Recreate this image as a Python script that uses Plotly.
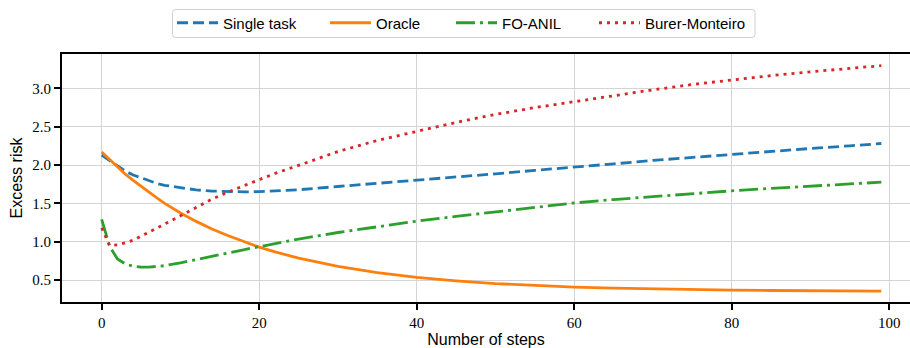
import plotly.graph_objects as go

steps = [0, 1, 2, 3, 4, 5, 6, 7, 8, 10, 12, 14, 16, 18, 20, 22, 25, 30, 35, 40,
         45, 50, 55, 60, 65, 70, 75, 80, 85, 90, 95, 99]

single_task = [2.13, 2.06, 1.98, 1.92, 1.87, 1.83, 1.79, 1.76, 1.735, 1.70, 1.675, 1.66,
               1.652, 1.65, 1.652, 1.66, 1.677, 1.72, 1.76, 1.80, 1.84, 1.885, 1.93, 1.97,
               2.015, 2.06, 2.10, 2.14, 2.18, 2.215, 2.25, 2.28]
oracle = [2.17, 2.07, 1.97, 1.88, 1.80, 1.72, 1.64, 1.57, 1.50, 1.375, 1.265, 1.165,
          1.08, 1.0, 0.93, 0.868, 0.786, 0.678, 0.596, 0.535, 0.489, 0.454, 0.429, 0.409,
          0.394, 0.383, 0.375, 0.369, 0.364, 0.361, 0.358, 0.356]
fo_anil = [1.29, 0.94, 0.775, 0.71, 0.68, 0.668, 0.668, 0.675, 0.688, 0.725, 0.77, 0.815,
           0.855, 0.895, 0.935, 0.975, 1.035, 1.12, 1.195, 1.268, 1.33, 1.39, 1.45, 1.505,
           1.55, 1.59, 1.63, 1.663, 1.695, 1.725, 1.755, 1.776]
burer_monteiro = [1.18, 0.95, 0.96, 0.985, 1.02, 1.07, 1.125, 1.175, 1.23, 1.337, 1.45,
                  1.555, 1.646, 1.73, 1.815, 1.89, 1.995, 2.175, 2.32, 2.44, 2.555, 2.66,
                  2.748, 2.825, 2.905, 2.98, 3.05, 3.11, 3.165, 3.215, 3.26, 3.295]

series_names = ["Single task", "Oracle", "FO-ANIL", "Burer-Monteiro"]
x_ticks = [0, 20, 40, 60, 80, 100]
y_ticks = [0.5, 1.0, 1.5, 2.0, 2.5, 3.0]

styles = [
    dict(color="#1f77b4", dash="11px,5px"),
    dict(color="#ff7f0e", dash="solid"),
    dict(color="#2ca02c", dash="19px,5px,3px,5px"),
    dict(color="#d62728", dash="3px,5px"),
]

# plot area geometry (px)
W, H = 910, 348
L, R, T, B = 62, 0, 54, 46
PW, PH = W - L - R, H - T - B


def px_x(p):
    return (p - L) / PW


def px_y(p):
    return (H - B - p) / PH


legend_ids = ["legend", "legend2", "legend3", "legend4"]
legend_left_px = [173, 326, 452, 595]

fig = go.Figure()
for name, vals, st, lid in zip(series_names, [single_task, oracle, fo_anil, burer_monteiro],
                               styles, legend_ids):
    fig.add_trace(go.Scatter(x=steps, y=vals, mode="lines", name=name, legend=lid,
                             showlegend=True,
                             line=dict(color=st["color"], dash=st["dash"], width=2.8)))

legend_common = dict(orientation="h", yanchor="middle", y=px_y(23), xanchor="left",
                     bgcolor="rgba(0,0,0,0)", borderwidth=0, itemwidth=41,
                     font=dict(family="Liberation Sans", size=15, color="black"))
layout_legends = {}
for lid, lx in zip(legend_ids, legend_left_px):
    layout_legends[lid] = dict(legend_common, x=px_x(lx - 1), visible=True)

# rounded legend frame
x0, x1, y0, y1, r = px_x(172.5), px_x(755), px_y(37.5), px_y(9.5), 3
rx, ry = r / PW, r / PH
frame = (f"M{x0+rx},{y1} L{x1-rx},{y1} Q{x1},{y1} {x1},{y1-ry} "
         f"L{x1},{y0+ry} Q{x1},{y0} {x1-rx},{y0} L{x0+rx},{y0} "
         f"Q{x0},{y0} {x0},{y0+ry} L{x0},{y1-ry} Q{x0},{y1} {x0+rx},{y1} Z")

fig.update_layout(
    width=W, height=H,
    showlegend=True,
    margin=dict(l=L, r=R, t=T, b=B),
    paper_bgcolor="white", plot_bgcolor="white",
    font=dict(family="Liberation Sans", size=15, color="black"),
    shapes=[dict(type="path", path=frame, xref="paper", yref="paper",
                 line=dict(color="#d0d0d0", width=1), fillcolor="rgba(0,0,0,0)")],
    xaxis=dict(range=[-5.04, 102.64], tickvals=x_ticks, ticks="outside", ticklen=6,
               tickwidth=1.5, tickcolor="black", showline=True, linecolor="black",
               linewidth=2, mirror=True, showgrid=True, gridcolor="#d4d4d4", gridwidth=1.2,
               zeroline=False,
               tickfont=dict(family="Liberation Serif", size=15),
               title=dict(text="Number of steps", standoff=5,
                          font=dict(family="Liberation Sans", size=16))),
    yaxis=dict(range=[0.214, 3.447], tickvals=y_ticks, ticktext=[f"{v:.1f}" for v in y_ticks],
               ticks="outside", ticklen=6, tickwidth=1.5, tickcolor="black", showline=True,
               linecolor="black", linewidth=2, mirror=False, showgrid=True,
               gridcolor="#d4d4d4", gridwidth=1.2, zeroline=False,
               tickfont=dict(family="Liberation Serif", size=15),
               title=dict(text="Excess risk", standoff=6,
                          font=dict(family="Liberation Sans", size=16))),
    **layout_legends,
)

fig.write_html("out.html")
